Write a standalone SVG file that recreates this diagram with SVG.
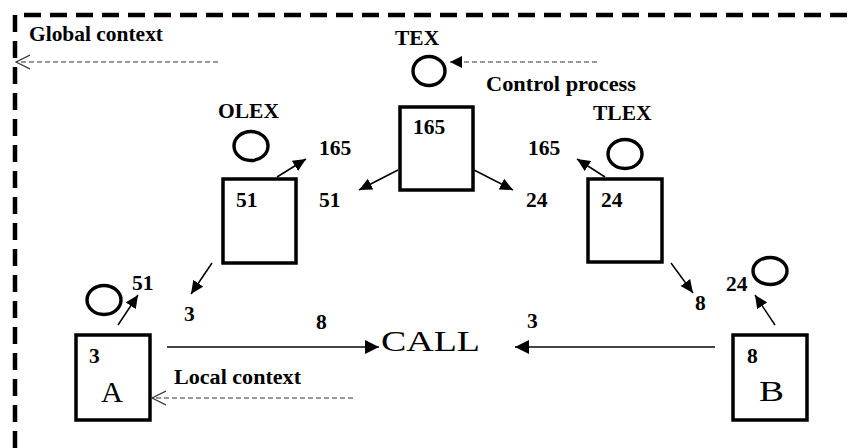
<svg xmlns="http://www.w3.org/2000/svg" width="851" height="448" viewBox="0 0 851 448">
<defs>
<style>
.lbl{font-family:"Liberation Serif","Times New Roman",serif;font-weight:bold;font-size:21.5px;fill:#000}
.big{font-family:"Liberation Serif","Times New Roman",serif;font-size:29px;fill:#000}
.box{fill:#fff;stroke:#000;stroke-width:3.5}
.ctx{fill:none;stroke:#000;stroke-width:3.4}
.arr{fill:none;stroke:#000;stroke-width:1.5;marker-end:url(#head)}
.call{fill:none;stroke:#444;stroke-width:2;marker-end:url(#bighead)}
.dash{fill:none;stroke:#333;stroke-width:1.2;stroke-dasharray:5,3}
</style>
<marker id="head" markerUnits="userSpaceOnUse" markerWidth="14" markerHeight="12" refX="13" refY="6" orient="auto"><path d="M0,0 L13,6 L0,12 z" fill="#000"/></marker>
<marker id="bighead" markerUnits="userSpaceOnUse" markerWidth="15" markerHeight="14" refX="14" refY="7" orient="auto"><path d="M0,0 L14,7 L0,14 z" fill="#000"/></marker>
<marker id="dhead" markerUnits="userSpaceOnUse" markerWidth="13" markerHeight="12" refX="12" refY="6" orient="auto"><path d="M0,0 L12,6 L0,12 z" fill="#000"/></marker>
<marker id="open" markerUnits="userSpaceOnUse" markerWidth="16" markerHeight="16" refX="14" refY="8" orient="auto"><path d="M0,1 L14,8 L0,15" fill="none" stroke="#333" stroke-width="1.2"/></marker>
</defs>
<rect width="851" height="448" fill="#fff"/>
<path id="border" d="M15,448 L15,15 L851,15" fill="none" stroke="#000" stroke-width="4.5" stroke-dasharray="17,9"/>
<text class="lbl" x="29" y="41" textLength="134" lengthAdjust="spacingAndGlyphs">Global context</text>
<text class="lbl" x="486" y="91" textLength="150" lengthAdjust="spacingAndGlyphs">Control process</text>
<text class="lbl" x="174" y="384" textLength="127" lengthAdjust="spacingAndGlyphs">Local context</text>
<g id="TEX">
<text class="lbl" x="395" y="45">TEX</text>
<ellipse class="ctx" cx="429" cy="71" rx="16" ry="14.5"/>
<rect class="box" x="400" y="107" width="73" height="83"/>
<text class="lbl" x="413" y="134">165</text>
</g>
<g id="OLEX">
<text class="lbl" x="218" y="118">OLEX</text>
<ellipse class="ctx" cx="251" cy="146" rx="17" ry="14.5"/>
<rect class="box" x="223" y="179" width="73" height="84"/>
<text class="lbl" x="236" y="207">51</text>
</g>
<g id="TLEX">
<text class="lbl" x="593" y="120">TLEX</text>
<ellipse class="ctx" cx="625" cy="154" rx="17" ry="14.5"/>
<rect class="box" x="588" y="179" width="74" height="83"/>
<text class="lbl" x="601" y="207">24</text>
</g>
<g id="A">
<ellipse class="ctx" cx="104" cy="300" rx="17" ry="14.5"/>
<rect class="box" x="76" y="335" width="74" height="85"/>
<text class="lbl" x="89" y="363">3</text>
<text class="big" x="101" y="402" textLength="22" lengthAdjust="spacingAndGlyphs">A</text>
</g>
<g id="B">
<ellipse class="ctx" cx="770" cy="271" rx="17" ry="13.5"/>
<rect class="box" x="733" y="335" width="74" height="85"/>
<text class="lbl" x="747" y="363">8</text>
<text class="big" x="759" y="401" textLength="25" lengthAdjust="spacingAndGlyphs">B</text>
</g>
<g id="CALL">
<text class="big" x="381" y="351" font-size="31" textLength="99" lengthAdjust="spacingAndGlyphs">CALL</text>
</g>
<g id="connectors">
<path class="dash" d="M218,62 L16,62" marker-end="url(#open)"/>
<path class="dash" d="M597,62 L450,62" marker-end="url(#dhead)"/>
<path class="dash" d="M353,398 L152,398" marker-end="url(#open)"/>
<path class="arr" d="M398,170 L359,190"/>
<path class="arr" d="M474,170 L513,190"/>
<path class="arr" d="M277,177 L306,159"/>
<path class="arr" d="M212,263 L191,294"/>
<path class="arr" d="M605,177 L577,159"/>
<path class="arr" d="M671,263 L693,293"/>
<path class="arr" d="M118,325 L138,295"/>
<path class="arr" d="M775,325 L755,295"/>
<path class="call" d="M167,347 L379,347"/>
<path class="call" d="M715,347 L515,347"/>
</g>
<g id="edge-labels">
<text class="lbl" x="319" y="155">165</text>
<text class="lbl" x="528" y="155">165</text>
<text class="lbl" x="319" y="207">51</text>
<text class="lbl" x="526" y="207">24</text>
<text class="lbl" x="132" y="290">51</text>
<text class="lbl" x="184" y="321">3</text>
<text class="lbl" x="316" y="329">8</text>
<text class="lbl" x="527" y="328">3</text>
<text class="lbl" x="695" y="310">8</text>
<text class="lbl" x="726" y="291">24</text>
</g>
</svg>
